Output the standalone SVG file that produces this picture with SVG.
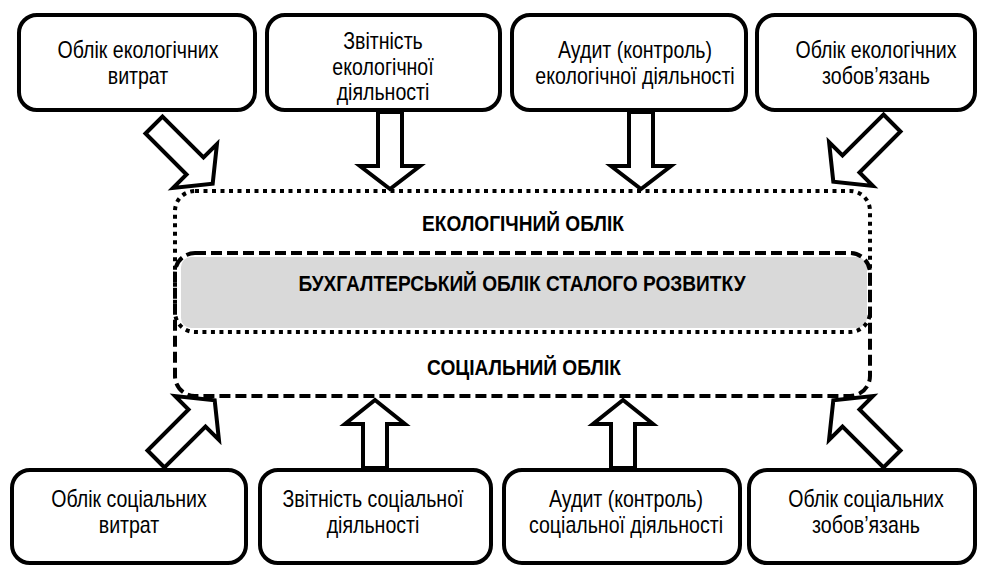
<svg xmlns="http://www.w3.org/2000/svg" width="985" height="569" viewBox="0 0 985 569">
<style>
.box{fill:#fff;stroke:#000;stroke-width:4}
.t{font-family:"Liberation Sans",Arial,sans-serif;font-size:24px;text-anchor:middle;fill:#000}
.b{font-family:"Liberation Sans",Arial,sans-serif;font-size:22.5px;font-weight:bold;text-anchor:middle;fill:#000}
.arr{fill:#fff;stroke:#000;stroke-width:4;stroke-linejoin:miter}
.dot{fill:none;stroke:#000;stroke-width:4;stroke-dasharray:4 4.5}
.dash{fill:none;stroke:#000;stroke-width:4;stroke-dasharray:11 5}
</style>
<rect width="985" height="569" fill="#fff"/>
<g id="core">
<rect x="181" y="257" width="686" height="71" rx="10" fill="#d9d9d9"/>
<rect class="dot" x="175" y="191" width="695" height="141" rx="20"/>
<rect class="dash" x="175" y="253" width="695" height="143" rx="20"/>
<text class="b" transform="translate(523 0) scale(0.85 1)" x="0" y="231">ЕКОЛОГІЧНИЙ ОБЛІК</text>
<text class="b" transform="translate(522 0) scale(0.85 1)" x="0" y="291">БУХГАЛТЕРСЬКИЙ ОБЛІК СТАЛОГО РОЗВИТКУ</text>
<text class="b" transform="translate(524 0) scale(0.85 1)" x="0" y="375">СОЦІАЛЬНИЙ ОБЛІК</text>
</g>
<g id="n1"><rect class="box" x="19" y="15" width="236" height="95" rx="18"/>
<text class="t" transform="translate(138 0) scale(0.815 1)" x="0" y="58">Облік екологічних</text>
<text class="t" transform="translate(138 0) scale(0.815 1)" x="0" y="84">витрат</text></g>
<g id="n2"><rect class="box" x="267" y="15" width="233" height="95" rx="18"/>
<text class="t" transform="translate(383 0) scale(0.815 1)" x="0" y="49">Звітність</text>
<text class="t" transform="translate(383 0) scale(0.815 1)" x="0" y="75">екологічної</text>
<text class="t" transform="translate(383 0) scale(0.815 1)" x="0" y="100">діяльності</text></g>
<g id="n3"><rect class="box" x="512" y="15" width="234" height="95" rx="18"/>
<text class="t" transform="translate(635 0) scale(0.815 1)" x="0" y="58">Аудит (контроль)</text>
<text class="t" transform="translate(635 0) scale(0.815 1)" x="0" y="84">екологічної діяльності</text></g>
<g id="n4"><rect class="box" x="757" y="15" width="218" height="95" rx="18"/>
<text class="t" transform="translate(876 0) scale(0.815 1)" x="0" y="58">Облік екологічних</text>
<text class="t" transform="translate(876 0) scale(0.815 1)" x="0" y="84">зобов’язань</text></g>
<g id="n5"><rect class="box" x="12" y="470" width="234" height="93" rx="18"/>
<text class="t" transform="translate(129 0) scale(0.815 1)" x="0" y="507">Облік соціальних</text>
<text class="t" transform="translate(129 0) scale(0.815 1)" x="0" y="533">витрат</text></g>
<g id="n6"><rect class="box" x="260" y="470" width="231" height="93" rx="18"/>
<text class="t" transform="translate(373 0) scale(0.815 1)" x="0" y="507">Звітність соціальної</text>
<text class="t" transform="translate(373 0) scale(0.815 1)" x="0" y="533">діяльності</text></g>
<g id="n7"><rect class="box" x="504" y="470" width="236" height="93" rx="18"/>
<text class="t" transform="translate(626 0) scale(0.815 1)" x="0" y="507">Аудит (контроль)</text>
<text class="t" transform="translate(626 0) scale(0.815 1)" x="0" y="533">соціальної діяльності</text></g>
<g id="n8"><rect class="box" x="749" y="470" width="226" height="93" rx="18"/>
<text class="t" transform="translate(866 0) scale(0.815 1)" x="0" y="507">Облік соціальних</text>
<text class="t" transform="translate(866 0) scale(0.815 1)" x="0" y="533">зобов’язань</text></g>
<g id="connectors">
<polygon class="arr" transform="translate(154 125) rotate(-45)" points="-12,0 12,0 12,58 31,58 0,83 -31,58 -12,58"/>
<polygon class="arr" points="378,112 402,112 402,166 420,166 390,189 360,166 378,166"/>
<polygon class="arr" points="629,112 653,112 653,166 671,166 641,189 611,166 629,166"/>
<polygon class="arr" transform="translate(892 123) rotate(45)" points="-12,0 12,0 12,58 31,58 0,83 -31,58 -12,58"/>
<polygon class="arr" transform="translate(156 459) rotate(-135)" points="-12,0 12,0 12,58 31,58 0,83 -31,58 -12,58"/>
<polygon class="arr" points="363,468 387,468 387,424 405,424 375,400 345,424 363,424"/>
<polygon class="arr" points="611,468 635,468 635,424 653,424 623,400 593,424 611,424"/>
<polygon class="arr" transform="translate(892 459) rotate(135)" points="-12,0 12,0 12,58 31,58 0,83 -31,58 -12,58"/>
</g>
</svg>
